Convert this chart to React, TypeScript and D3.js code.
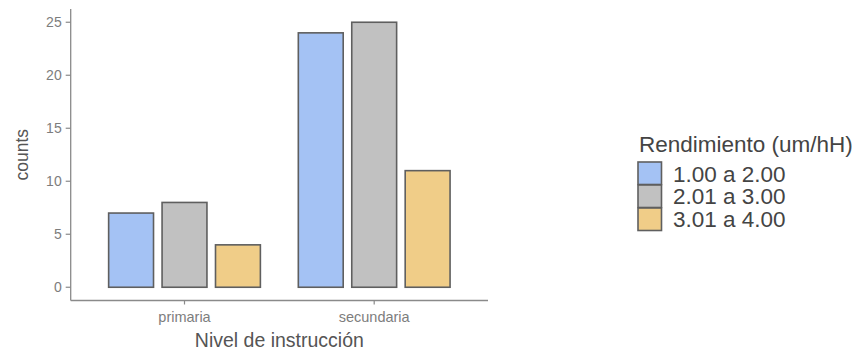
import React from "react";
import * as d3 from "d3";

const categories = ["primaria", "secundaria"];
const seriesNames = ["1.00 a 2.00", "2.01 a 3.00", "3.01 a 4.00"];
const values1to2 = [7, 24];
const values2to3 = [8, 25];
const values3to4 = [4, 11];
const yTicks = [0, 5, 10, 15, 20, 25];
const seriesColors = ["#a4c2f4", "#c1c1c1", "#f0cd88"];

const W = 855;
const H = 352;
const plot = { left: 70.7, right: 488, top: 9, bottom: 300.5 };

export default function App() {
  const seriesValues = [values1to2, values2to3, values3to4];

  const x = d3
    .scalePoint<string>()
    .domain(categories)
    .range([plot.left, plot.right])
    .padding(0.6);
  const step = x.step();
  const groupWidth = step * 0.8;
  const inner = d3
    .scaleBand<number>()
    .domain(seriesNames.map((_, i) => i))
    .range([-groupWidth / 2, groupWidth / 2])
    .paddingInner(0.16)
    .paddingOuter(0);

  const y = d3
    .scaleLinear()
    .domain([-1.25, 26.25])
    .range([plot.bottom, plot.top]);

  const font = "'Liberation Sans', Arial, sans-serif";
  const axisColor = "#8a8a8a";
  const tickText = "#7d7d7d";

  return (
    <svg
      width={W}
      height={H}
      style={{ position: "absolute", left: 0, top: 0, background: "#fff" }}
      fontFamily={font}
    >
      {/* bars */}
      {categories.map((c, ci) =>
        seriesValues.map((vals, si) => {
          const bx = (x(c) as number) + (inner(si) as number);
          return (
            <rect
              key={`${c}-${si}`}
              x={bx}
              y={y(vals[ci])}
              width={inner.bandwidth()}
              height={y(0) - y(vals[ci])}
              fill={seriesColors[si]}
              stroke="#5f5f5f"
              strokeWidth={1.6}
            />
          );
        })
      )}

      {/* y axis */}
      <line
        x1={plot.left}
        x2={plot.left}
        y1={plot.top}
        y2={plot.bottom}
        stroke={axisColor}
        strokeWidth={1.3}
      />
      {yTicks.map((t) => (
        <g key={t}>
          <line
            x1={plot.left - 5}
            x2={plot.left}
            y1={y(t)}
            y2={y(t)}
            stroke={axisColor}
            strokeWidth={1.2}
          />
          <text
            x={plot.left - 9}
            y={y(t)}
            dy="0.35em"
            textAnchor="end"
            fontSize={14}
            fill={tickText}
          >
            {t}
          </text>
        </g>
      ))}

      {/* x axis */}
      <line
        x1={plot.left}
        x2={plot.right}
        y1={plot.bottom}
        y2={plot.bottom}
        stroke={axisColor}
        strokeWidth={1.3}
      />
      {categories.map((c) => (
        <g key={c}>
          <line
            x1={x(c)}
            x2={x(c)}
            y1={plot.bottom}
            y2={plot.bottom + 4}
            stroke={axisColor}
            strokeWidth={1.2}
          />
          <text
            x={x(c)}
            y={322}
            textAnchor="middle"
            fontSize={14.5}
            fill={tickText}
          >
            {c}
          </text>
        </g>
      ))}

      {/* axis titles */}
      <text
        x={(plot.left + plot.right) / 2}
        y={347}
        textAnchor="middle"
        fontSize={19.5}
        fill="#555"
      >
        Nivel de instrucción
      </text>
      <text
        transform={`translate(28,${(plot.top + plot.bottom) / 2}) rotate(-90)`}
        textAnchor="middle"
        fontSize={17.5}
        fill="#555"
      >
        counts
      </text>

      {/* legend */}
      <text x={639} y={151.5} fontSize={22.5} fill="#444">
        Rendimiento (um/hH)
      </text>
      {seriesNames.map((s, i) => (
        <g key={s}>
          <rect
            x={638}
            y={162 + i * 23}
            width={23.5}
            height={22.5}
            fill={seriesColors[i]}
            stroke="#5f5f5f"
            strokeWidth={1.6}
          />
          <text x={673} y={181.5 + i * 22.7} fontSize={22.5} fill="#444">
            {s}
          </text>
        </g>
      ))}
    </svg>
  );
}
